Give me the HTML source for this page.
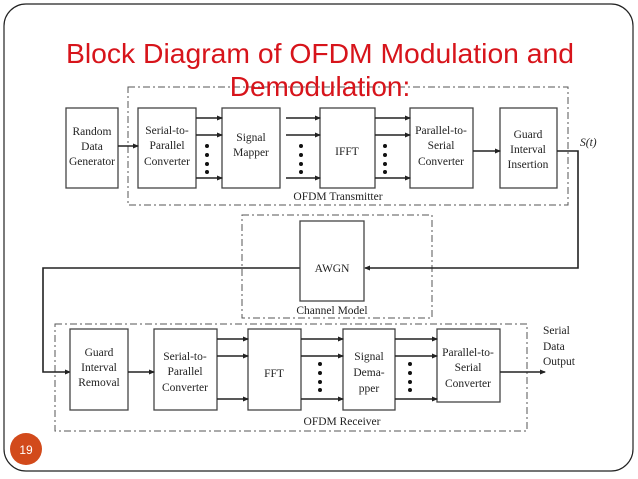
<!DOCTYPE html>
<html><head><meta charset="utf-8"><style>
body{margin:0;background:#fff}
svg{display:block}
.b{fill:#fff;stroke:#444;stroke-width:1.3}
.t{font-family:"Liberation Serif",serif;font-size:11.5px;fill:#222;text-anchor:middle}
.l{stroke:#222;stroke-width:1.6;fill:none}
.d{stroke:#555;stroke-width:1;fill:none;stroke-dasharray:7 3 2 3}
</style></head><body>
<svg width="638" height="479" viewBox="0 0 638 479" xmlns="http://www.w3.org/2000/svg">
<defs><marker id="a" markerWidth="6" markerHeight="6" refX="5" refY="3" orient="auto" markerUnits="userSpaceOnUse"><path d="M0,0.5 L6,3 L0,5.5z" fill="#222"/></marker></defs>
<rect x="4" y="4" width="629" height="467" rx="22" fill="#fff" stroke="#222" stroke-width="1.2"/>
<text x="320" y="63" font-family="Liberation Sans,sans-serif" font-size="28" fill="#d7141b" text-anchor="middle" textLength="508" lengthAdjust="spacingAndGlyphs">Block Diagram of OFDM Modulation and</text>
<!-- dashed boxes -->
<rect class="d" x="128" y="87" width="440" height="118"/>
<rect class="d" x="242" y="215" width="190" height="103"/>
<rect class="d" x="55" y="324" width="472" height="107"/>
<text x="320" y="96" font-family="Liberation Sans,sans-serif" font-size="28" fill="#d7141b" text-anchor="middle">Demodulation:</text>
<!-- transmitter blocks -->
<rect class="b" x="66" y="108" width="52" height="80"/>
<text class="t" x="92" y="135">Random</text><text class="t" x="92" y="150">Data</text><text class="t" x="92" y="165">Generator</text>
<rect class="b" x="138" y="108" width="58" height="80"/>
<text class="t" x="167" y="134">Serial-to-</text><text class="t" x="167" y="149">Parallel</text><text class="t" x="167" y="165">Converter</text>
<rect class="b" x="222" y="108" width="58" height="80"/>
<text class="t" x="251" y="141">Signal</text><text class="t" x="251" y="156">Mapper</text>
<rect class="b" x="320" y="108" width="55" height="80"/>
<text class="t" x="347" y="155">IFFT</text>
<rect class="b" x="410" y="108" width="63" height="80"/>
<text class="t" x="441" y="134">Parallel-to-</text><text class="t" x="441" y="149">Serial</text><text class="t" x="441" y="165">Converter</text>
<rect class="b" x="500" y="108" width="57" height="80"/>
<text class="t" x="528" y="138">Guard</text><text class="t" x="528" y="153">Interval</text><text class="t" x="528" y="168">Insertion</text>
<text x="580" y="146" font-family="Liberation Serif,serif" font-style="italic" font-size="11.5" fill="#222">S(t)</text>
<text class="t" x="338" y="200">OFDM Transmitter</text>
<line class="l" x1="118" y1="146" x2="138" y2="146" marker-end="url(#a)"/>
<g class="l">
<line x1="196" y1="118" x2="222" y2="118" marker-end="url(#a)"/><line x1="196" y1="135" x2="222" y2="135" marker-end="url(#a)"/><line x1="196" y1="178" x2="222" y2="178" marker-end="url(#a)"/>
<line x1="286" y1="118" x2="320" y2="118" marker-end="url(#a)"/><line x1="286" y1="135" x2="320" y2="135" marker-end="url(#a)"/><line x1="286" y1="178" x2="320" y2="178" marker-end="url(#a)"/>
<line x1="375" y1="118" x2="410" y2="118" marker-end="url(#a)"/><line x1="375" y1="135" x2="410" y2="135" marker-end="url(#a)"/><line x1="375" y1="178" x2="410" y2="178" marker-end="url(#a)"/>
<line x1="473" y1="151" x2="500" y2="151" marker-end="url(#a)"/>
<polyline points="557,151 578,151 578,268 365,268" marker-end="url(#a)"/>
<polyline points="300,268 43,268 43,372 70,372" marker-end="url(#a)"/>
</g>
<g fill="#111">
<circle cx="207" cy="146" r="2"/><circle cx="207" cy="155" r="2"/><circle cx="207" cy="164" r="2"/><circle cx="207" cy="172" r="2"/>
<circle cx="301" cy="146" r="2"/><circle cx="301" cy="155" r="2"/><circle cx="301" cy="164" r="2"/><circle cx="301" cy="172" r="2"/>
<circle cx="385" cy="146" r="2"/><circle cx="385" cy="155" r="2"/><circle cx="385" cy="164" r="2"/><circle cx="385" cy="172" r="2"/>
</g>
<!-- channel -->
<rect class="b" x="300" y="221" width="64" height="80"/>
<text class="t" x="332" y="272">AWGN</text>
<text class="t" x="332" y="314">Channel Model</text>
<!-- receiver -->
<rect class="b" x="70" y="329" width="58" height="81"/>
<text class="t" x="99" y="356">Guard</text><text class="t" x="99" y="371">Interval</text><text class="t" x="99" y="386">Removal</text>
<rect class="b" x="154" y="329" width="63" height="81"/>
<text class="t" x="185" y="360">Serial-to-</text><text class="t" x="185" y="375">Parallel</text><text class="t" x="185" y="391">Converter</text>
<rect class="b" x="248" y="329" width="53" height="81"/>
<text class="t" x="274" y="377">FFT</text>
<rect class="b" x="343" y="329" width="52" height="81"/>
<text class="t" x="369" y="360">Signal</text><text class="t" x="369" y="376">Dema-</text><text class="t" x="369" y="392">pper</text>
<rect class="b" x="437" y="329" width="63" height="73"/>
<text class="t" x="468" y="356">Parallel-to-</text><text class="t" x="468" y="371">Serial</text><text class="t" x="468" y="387">Converter</text>
<text class="t" x="342" y="425">OFDM Receiver</text>
<text x="543" y="334" font-family="Liberation Serif,serif" font-size="11.5" fill="#222">Serial</text>
<text x="543" y="350" font-family="Liberation Serif,serif" font-size="11.5" fill="#222">Data</text>
<text x="543" y="365" font-family="Liberation Serif,serif" font-size="11.5" fill="#222">Output</text>
<g class="l">
<line x1="128" y1="372" x2="154" y2="372" marker-end="url(#a)"/>
<line x1="217" y1="339" x2="248" y2="339" marker-end="url(#a)"/><line x1="217" y1="356" x2="248" y2="356" marker-end="url(#a)"/><line x1="217" y1="399" x2="248" y2="399" marker-end="url(#a)"/>
<line x1="301" y1="339" x2="343" y2="339" marker-end="url(#a)"/><line x1="301" y1="356" x2="343" y2="356" marker-end="url(#a)"/><line x1="301" y1="399" x2="343" y2="399" marker-end="url(#a)"/>
<line x1="395" y1="339" x2="437" y2="339" marker-end="url(#a)"/><line x1="395" y1="356" x2="437" y2="356" marker-end="url(#a)"/><line x1="395" y1="399" x2="437" y2="399" marker-end="url(#a)"/>
<line x1="500" y1="372" x2="545" y2="372" marker-end="url(#a)"/>
</g>
<g fill="#111">
<circle cx="320" cy="364" r="2"/><circle cx="320" cy="373" r="2"/><circle cx="320" cy="382" r="2"/><circle cx="320" cy="390" r="2"/>
<circle cx="410" cy="364" r="2"/><circle cx="410" cy="373" r="2"/><circle cx="410" cy="382" r="2"/><circle cx="410" cy="390" r="2"/>
</g>
<circle cx="26" cy="449" r="16" fill="#d24a1b"/>
<text x="26" y="454" font-family="Liberation Sans,sans-serif" font-size="12" fill="#fff" text-anchor="middle">19</text>
</svg>
</body></html>
